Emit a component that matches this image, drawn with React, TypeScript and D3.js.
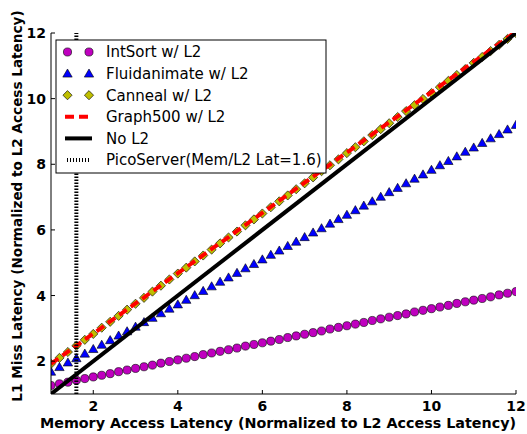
import React from "react";
import * as d3 from "d3";

const WIDTH = 527;
const HEIGHT = 434;
const MARGIN = { top: 33, right: 11, bottom: 40, left: 51 };

// memory latency (normalized), sampled every 0.2
const memLatency = [
  1.0, 1.2, 1.4, 1.6, 1.8, 2.0, 2.2, 2.4, 2.6, 2.8, 3.0, 3.2, 3.4, 3.6, 3.8, 4.0, 4.2, 4.4, 4.6, 4.8,
  5.0, 5.2, 5.4, 5.6, 5.8, 6.0, 6.2, 6.4, 6.6, 6.8, 7.0, 7.2, 7.4, 7.6, 7.8, 8.0, 8.2, 8.4, 8.6, 8.8,
  9.0, 9.2, 9.4, 9.6, 9.8, 10.0, 10.2, 10.4, 10.6, 10.8, 11.0, 11.2, 11.4, 11.6, 11.8, 12.0,
];

const intSort = [
  1.26, 1.31, 1.36, 1.42, 1.47, 1.52, 1.57, 1.62, 1.68, 1.73, 1.78, 1.83, 1.88, 1.94, 1.99, 2.04, 2.09, 2.14, 2.2, 2.25,
  2.3, 2.35, 2.4, 2.46, 2.51, 2.56, 2.61, 2.66, 2.72, 2.77, 2.82, 2.87, 2.92, 2.98, 3.03, 3.08, 3.13, 3.18, 3.24, 3.29,
  3.34, 3.39, 3.44, 3.5, 3.55, 3.6, 3.65, 3.7, 3.76, 3.81, 3.86, 3.91, 3.96, 4.02, 4.07, 4.12,
];

const fluidanimate = [
  1.68, 1.82, 1.96, 2.09, 2.23, 2.37, 2.5, 2.64, 2.78, 2.91, 3.05, 3.19, 3.32, 3.46, 3.6, 3.73, 3.87, 4.01, 4.14, 4.28,
  4.42, 4.55, 4.69, 4.83, 4.96, 5.1, 5.24, 5.37, 5.51, 5.64, 5.78, 5.92, 6.05, 6.19, 6.33, 6.46, 6.6, 6.74, 6.87, 7.01,
  7.15, 7.28, 7.42, 7.56, 7.69, 7.83, 7.97, 8.1, 8.24, 8.38, 8.51, 8.65, 8.79, 8.92, 9.06, 9.2,
];

const canneal = [
  1.92, 2.1, 2.28, 2.47, 2.65, 2.83, 3.02, 3.2, 3.38, 3.57, 3.75, 3.93, 4.12, 4.3, 4.49, 4.67, 4.85, 5.04, 5.22, 5.4,
  5.59, 5.77, 5.95, 6.14, 6.32, 6.5, 6.69, 6.87, 7.05, 7.24, 7.42, 7.6, 7.79, 7.97, 8.15, 8.34, 8.52, 8.7, 8.89, 9.07,
  9.25, 9.44, 9.62, 9.8, 9.99, 10.17, 10.35, 10.54, 10.72, 10.9, 11.09, 11.27, 11.45, 11.64, 11.82, 12.0,
];

const graph500 = [
  1.92, 2.1, 2.29, 2.47, 2.66, 2.84, 3.02, 3.21, 3.39, 3.58, 3.76, 3.94, 4.13, 4.31, 4.5, 4.68, 4.86, 5.05, 5.23, 5.42,
  5.6, 5.78, 5.97, 6.15, 6.34, 6.52, 6.7, 6.89, 7.07, 7.26, 7.44, 7.62, 7.81, 7.99, 8.18, 8.36, 8.54, 8.73, 8.91, 9.1,
  9.28, 9.46, 9.65, 9.83, 10.02, 10.2, 10.38, 10.57, 10.75, 10.94, 11.12, 11.3, 11.49, 11.67, 11.86, 12.04,
];

const noL2X = [1, 12];
const noL2Y = [1, 12];
const picoServerLat = 1.6;

const xTicks = [2, 4, 6, 8, 10, 12];
const yTicks = [2, 4, 6, 8, 10, 12];

const legendLabels = [
  "IntSort w/ L2",
  "Fluidanimate w/ L2",
  "Canneal w/ L2",
  "Graph500 w/ L2",
  "No L2",
  "PicoServer(Mem/L2 Lat=1.6)",
];

const FONT = "DejaVu Sans, sans-serif";

const circlePath = d3.symbol(d3.symbolCircle, 52)()!;
const trianglePath = d3.symbol(d3.symbolTriangle, 38)()!;
const squarePath = d3.symbol(d3.symbolSquare, 42)()!;

const Circle = ({ x, y }: { x: number; y: number }) => (
  <path d={circlePath} transform={`translate(${x},${y})`} fill="#bf00bf" stroke="#000" strokeWidth={0.6} />
);
const Triangle = ({ x, y }: { x: number; y: number }) => (
  <path d={trianglePath} transform={`translate(${x},${y + 0.8})`} fill="#0000ff" stroke="#000" strokeWidth={0.6} />
);
const Diamond = ({ x, y }: { x: number; y: number }) => (
  <path d={squarePath} transform={`translate(${x},${y}) rotate(45)`} fill="#bfbf00" stroke="#000" strokeWidth={0.6} />
);

export default function App() {
  const innerW = WIDTH - MARGIN.left - MARGIN.right;
  const innerH = HEIGHT - MARGIN.top - MARGIN.bottom;

  const x = d3.scaleLinear().domain([1, 12]).range([0, innerW]);
  const y = d3.scaleLinear().domain([1, 12]).range([innerH, 0]);

  const line = d3
    .line<number>()
    .x((_, i) => x(memLatency[i]))
    .y((d) => y(d));

  const noL2Line = d3
    .line<number>()
    .x((_, i) => x(noL2X[i]))
    .y((d) => y(d));

  const legendX = 56;
  const legendY = 40;
  const legendW = 270;
  const legendH = 133;
  const rowH = 21.6;

  return (
    <svg
      width={WIDTH}
      height={HEIGHT}
      style={{ position: "absolute", left: 0, top: 0, background: "#fff" }}
      fontFamily={FONT}
    >
      <defs>
        <clipPath id="plot-clip">
          <rect x={0} y={0} width={innerW} height={innerH} />
        </clipPath>
      </defs>
      <g transform={`translate(${MARGIN.left},${MARGIN.top})`}>
        <g clipPath="url(#plot-clip)">
          {intSort.map((d, i) => (
            <Circle key={`c${i}`} x={x(memLatency[i])} y={y(d)} />
          ))}
          {fluidanimate.map((d, i) => (
            <Triangle key={`t${i}`} x={x(memLatency[i])} y={y(d)} />
          ))}
          {canneal.map((d, i) => (
            <Diamond key={`d${i}`} x={x(memLatency[i])} y={y(d)} />
          ))}
          <path d={line(graph500)!} fill="none" stroke="#ff0000" strokeWidth={4} strokeDasharray="9,5" />
          <path d={noL2Line(noL2Y)!} fill="none" stroke="#000" strokeWidth={4} />
          <line
            x1={x(picoServerLat)}
            x2={x(picoServerLat)}
            y1={y(1)}
            y2={y(12)}
            stroke="#000"
            strokeWidth={4}
            strokeDasharray="1.4,1.6"
          />
        </g>

        {/* axes */}
        <line x1={0} x2={innerW} y1={innerH} y2={innerH} stroke="#000" strokeWidth={1} />
        <line x1={0} x2={0} y1={0} y2={innerH} stroke="#000" strokeWidth={1} />
        {xTicks.map((t) => (
          <g key={`xt${t}`} transform={`translate(${x(t)},${innerH})`}>
            <line y1={0} y2={-4} stroke="#000" />
            <text y={17} textAnchor="middle" fontSize={14} fontWeight="bold">
              {t}
            </text>
          </g>
        ))}
        {yTicks.map((t) => (
          <g key={`yt${t}`} transform={`translate(0,${y(t)})`}>
            <line x1={0} x2={4} stroke="#000" />
            <text x={-5} dy="0.36em" textAnchor="end" fontSize={14} fontWeight="bold">
              {t}
            </text>
          </g>
        ))}
      </g>

      <text x={278} y={428} textAnchor="middle" fontSize={14.3} fontWeight="bold">
        Memory Access Latency (Normalized to L2 Access Latency)
      </text>
      <text
        transform={`translate(22,${206}) rotate(-90)`}
        textAnchor="middle"
        fontSize={13.6}
        fontWeight="bold"
      >
        L1 Miss Latency (Normalized to L2 Access Latency)
      </text>

      {/* legend */}
      <g>
        <rect x={legendX} y={legendY} width={legendW} height={legendH} fill="#fff" stroke="#000" strokeWidth={1} />
        {legendLabels.map((label, i) => {
          const cy = legendY + 12 + i * rowH;
          const m1 = 67.5;
          const m2 = 89;
          let sample: React.ReactNode = null;
          if (i === 0) sample = (<><Circle x={m1} y={cy} /><Circle x={m2} y={cy} /></>);
          if (i === 1) sample = (<><Triangle x={m1} y={cy} /><Triangle x={m2} y={cy} /></>);
          if (i === 2) sample = (<><Diamond x={m1} y={cy} /><Diamond x={m2} y={cy} /></>);
          if (i === 3)
            sample = <line x1={65} x2={92} y1={cy} y2={cy} stroke="#ff0000" strokeWidth={4} strokeDasharray="9,5" />;
          if (i === 4) sample = <line x1={65} x2={92} y1={cy} y2={cy} stroke="#000" strokeWidth={4} />;
          if (i === 5)
            sample = (
              <line x1={67} x2={90} y1={cy} y2={cy} stroke="#000" strokeWidth={4} strokeDasharray="1,2" />
            );
          return (
            <g key={label}>
              {sample}
              <text x={106} y={cy} dy="0.36em" fontSize={15}>
                {label}
              </text>
            </g>
          );
        })}
      </g>
    </svg>
  );
}
